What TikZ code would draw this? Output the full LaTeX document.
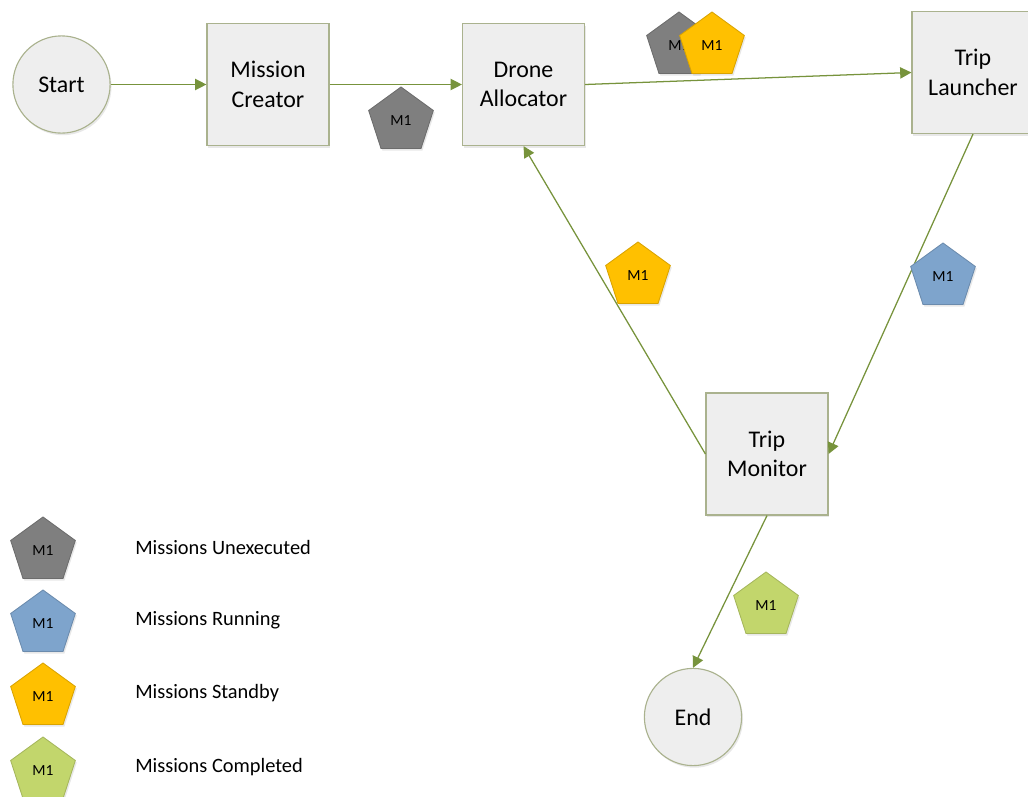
\documentclass[tikz,border=0pt]{standalone}
\usepackage{fontspec}
\setmainfont{Carlito}
\usetikzlibrary{shapes.geometric,arrows.meta,shadows}
\definecolor{flowline}{RGB}{119,147,60}
\definecolor{boxedge}{RGB}{170,178,142}
\definecolor{boxfill}{RGB}{238,238,238}
\definecolor{tokgray}{RGB}{127,127,127}
\definecolor{tokblue}{RGB}{126,164,204}
\definecolor{tokyellow}{RGB}{255,192,0}
\definecolor{tokgreen}{RGB}{194,214,108}

\begin{document}
\begin{tikzpicture}[x=0.025cm,y=-0.025cm,
    soft/.style={drop shadow={opacity=0.18,shadow xshift=1pt,shadow yshift=-1.5pt}},
    stage/.style={draw=boxedge,fill=boxfill,line width=0.8pt,minimum size=3.05cm,align=center,font=\fontsize{17}{21}\selectfont,soft},
    terminal/.style={stage,circle,minimum size=2.43cm},
    token/.style={regular polygon,regular polygon sides=5,minimum size=1.7cm,inner sep=0pt,draw=#1!85!black,fill=#1,line width=0.6pt,font=\fontsize{11}{13}\selectfont,soft},
    flow/.style={draw=flowline,line width=0.9pt,-{Triangle[length=8pt,width=8pt]}}]
    \useasboundingbox (0,0) rectangle (1028,797);

    \node[terminal] (start) at (61.5,84.5) {Start};
    \node[stage] (creator) at (268,84.5) {Mission\\Creator};
    \node[stage] (allocator) at (523.5,84.5) {Drone\\Allocator};
    \node[stage] (launcher) at (973,72.5) {Trip\\Launcher};
    \node[stage] (monitor) at (767,454) {Trip\\Monitor};
    \node[terminal] (finish) at (693,717) {End};

    \draw[flow] (start) -- (creator);
    \draw[flow] (creator) -- (allocator);
    \draw[flow] (allocator.east) -- (launcher.west);
    \draw[flow] (launcher.south) -- (monitor.east);
    \draw[flow] (monitor.west) -- (allocator.south);
    \draw[flow] (monitor.south) -- (finish.north);

    \node[token=tokgray] (waiting) at (401,121) {M1};
    \node[token=tokgray] (queued) at (679,46) {M1};
    \node[token=tokyellow] (allotted) at (712,46) {M1};
    \node[token=tokyellow] (returned) at (638,276) {M1};
    \node[token=tokblue] (flying) at (943,277) {M1};
    \node[token=tokgreen] (done) at (766,606) {M1};

    \foreach \ypos/\col/\desc in {551/tokgray/Unexecuted, 624/tokblue/Running, 697/tokyellow/Standby, 771/tokgreen/Completed} {
        \node[token=\col] (key\desc) at (43,\ypos) {M1};
        \node[anchor=west,inner sep=0pt,font=\fontsize{14.5}{17}\selectfont] (label\desc) at (135,\ypos-4) {Missions \desc};
    }
\end{tikzpicture}
\end{document}
